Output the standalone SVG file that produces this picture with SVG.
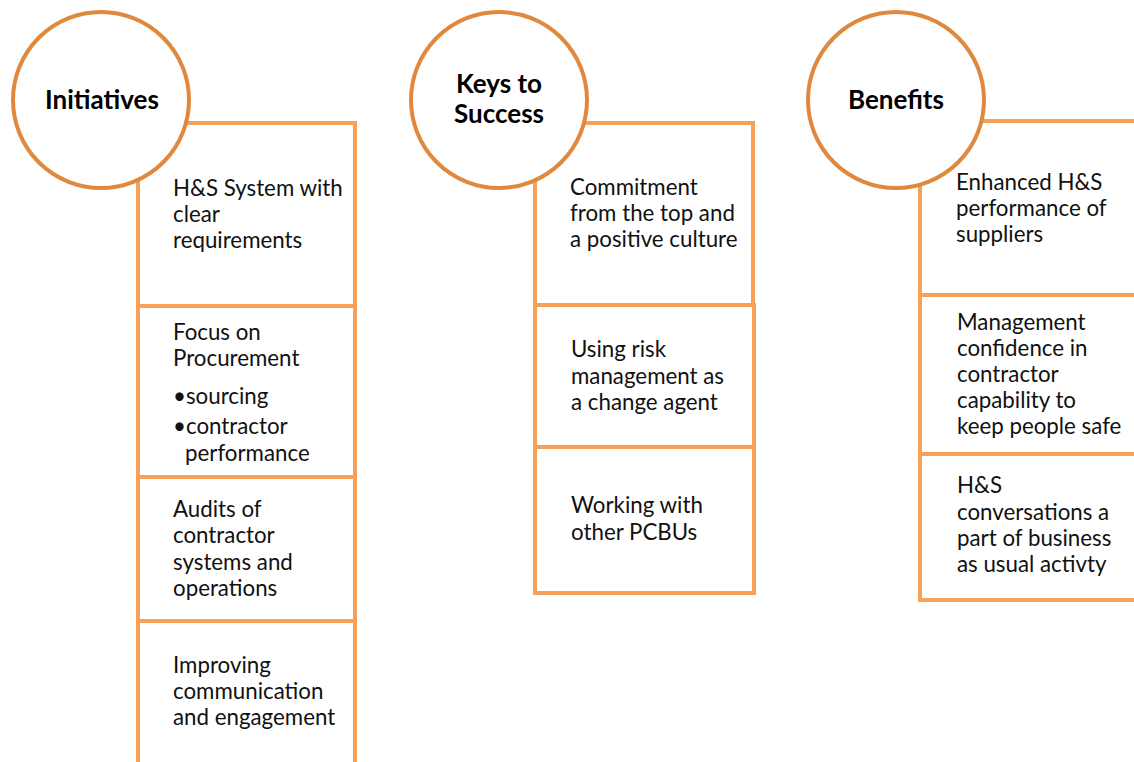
<svg xmlns="http://www.w3.org/2000/svg" width="1134" height="762" viewBox="0 0 1134 762">
  <style>
    .box { fill: #ffffff; stroke: #F7A05A; stroke-width: 4; }
    .hub { fill: #ffffff; stroke: #E0883D; stroke-width: 4; }
    .t { font-family: Lato, "Liberation Sans", sans-serif; font-size: 22.3px; fill: #111111; }
    .h { font-family: Lato, "Liberation Sans", sans-serif; font-size: 26px; font-weight: bold; fill: #000000; text-anchor: middle; }
  </style>
  <rect width="1134" height="762" fill="#ffffff"/>

  <!-- Column 1: Initiatives -->
  <g id="init-1">
    <rect class="box" x="138" y="123" width="217" height="183"/>
    <text class="t"><tspan x="173" y="196">H&amp;S System with</tspan><tspan x="173" y="222">clear</tspan><tspan x="173" y="248">requirements</tspan></text>
  </g>
  <g id="init-2">
    <rect class="box" x="138" y="306" width="217" height="171"/>
    <text class="t"><tspan x="173" y="340">Focus on</tspan><tspan x="173" y="366">Procurement</tspan><tspan x="173" y="404">•sourcing</tspan><tspan x="173" y="434">•contractor</tspan><tspan x="185" y="461">performance</tspan></text>
  </g>
  <g id="init-3">
    <rect class="box" x="138" y="477" width="217" height="144"/>
    <text class="t"><tspan x="173" y="517">Audits of</tspan><tspan x="173" y="543">contractor</tspan><tspan x="173" y="570">systems and</tspan><tspan x="173" y="596">operations</tspan></text>
  </g>
  <g id="init-4">
    <rect class="box" x="138" y="621" width="217" height="160"/>
    <text class="t"><tspan x="173" y="673">Improving</tspan><tspan x="173" y="699">communication</tspan><tspan x="173" y="725">and engagement</tspan></text>
  </g>
  <g id="initiatives">
    <circle class="hub" cx="101" cy="100" r="88"/>
    <text class="h" x="102" y="109">Initiatives</text>
  </g>

  <!-- Column 2: Keys to Success -->
  <g id="keys-1">
    <rect class="box" x="535" y="123" width="218" height="182"/>
    <text class="t"><tspan x="570" y="195">Commitment</tspan><tspan x="570" y="221">from the top and</tspan><tspan x="570" y="247">a positive culture</tspan></text>
  </g>
  <g id="keys-2">
    <rect class="box" x="535" y="305" width="219" height="142"/>
    <text class="t"><tspan x="571" y="357">Using risk</tspan><tspan x="571" y="384">management as</tspan><tspan x="571" y="410">a change agent</tspan></text>
  </g>
  <g id="keys-3">
    <rect class="box" x="535" y="447" width="219" height="146"/>
    <text class="t"><tspan x="571" y="513">Working with</tspan><tspan x="571" y="540">other PCBUs</tspan></text>
  </g>
  <g id="keys">
    <circle class="hub" cx="499" cy="100" r="88"/>
    <text class="h"><tspan x="499" y="93">Keys to</tspan><tspan x="499" y="123">Success</tspan></text>
  </g>

  <!-- Column 3: Benefits -->
  <g id="benefit-1">
    <rect class="box" x="920" y="121" width="240" height="174"/>
    <text class="t"><tspan x="956" y="190">Enhanced H&amp;S</tspan><tspan x="956" y="216">performance of</tspan><tspan x="956" y="242">suppliers</tspan></text>
  </g>
  <g id="benefit-2">
    <rect class="box" x="920" y="295" width="240" height="159"/>
    <text class="t"><tspan x="957" y="330">Management</tspan><tspan x="957" y="356">confidence in</tspan><tspan x="957" y="382">contractor</tspan><tspan x="957" y="408">capability to</tspan><tspan x="957" y="434">keep people safe</tspan></text>
  </g>
  <g id="benefit-3">
    <rect class="box" x="920" y="454" width="240" height="146"/>
    <text class="t"><tspan x="957" y="493">H&amp;S</tspan><tspan x="957" y="520">conversations a</tspan><tspan x="957" y="546">part of business</tspan><tspan x="957" y="572">as usual activty</tspan></text>
  </g>
  <g id="benefits">
    <circle class="hub" cx="896" cy="100" r="88"/>
    <text class="h" x="896" y="109">Benefits</text>
  </g>

  <g id="connectors"/>
</svg>
